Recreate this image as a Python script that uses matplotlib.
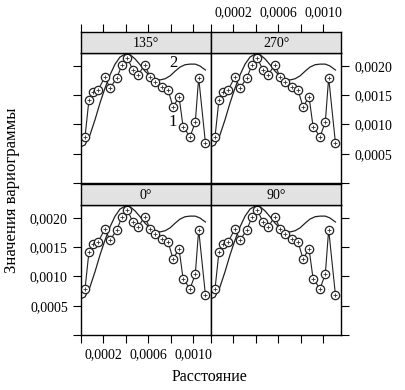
import matplotlib.pyplot as plt

plt.rcParams['font.family'] = ['Liberation Serif', 'DejaVu Serif']

# experimental variogram (curve 1)
lag = [0.000036, 0.000071, 0.000107, 0.000152, 0.000214, 0.000259, 0.000321,
       0.000366, 0.000411, 0.000464, 0.000509, 0.000571, 0.000616, 0.000661,
       0.000723, 0.000777, 0.000821, 0.000875, 0.000911, 0.000973, 0.00102,
       0.00105, 0.00111]
gamma = [0.00079, 0.00142, 0.00156, 0.00159, 0.00181, 0.00162, 0.00180,
         0.00202, 0.00214, 0.00193, 0.00185, 0.00202, 0.00181, 0.00173,
         0.00164, 0.00159, 0.00130, 0.00147, 0.00096, 0.00079, 0.00104,
         0.00180, 0.00069]

# model variogram (curve 2)
model_lag = [0.0, 0.000036, 0.00008, 0.000125, 0.00017, 0.000214, 0.00026,
             0.000304, 0.000348, 0.000393, 0.000438, 0.000482, 0.000527,
             0.000571, 0.000616, 0.000661, 0.000705, 0.00075, 0.000795,
             0.00084, 0.000884, 0.000929, 0.000973, 0.00102, 0.00106, 0.00111]
model_gamma = [0.00062, 0.00065, 0.00082, 0.00108, 0.00137, 0.00162, 0.00185,
               0.00203, 0.00215, 0.00220, 0.00219, 0.00212, 0.00202, 0.00191,
               0.00183, 0.00178, 0.00176, 0.00178, 0.00183, 0.00191, 0.00198,
               0.00202, 0.00203, 0.00203, 0.00200, 0.00193]

directions = ['135°', '270°', '0°', '90°']
yticks = [0, 0.0005, 0.0010, 0.0015, 0.0020]
ytick_labels = ['', '0,0005', '0,0010', '0,0015', '0,0020']
xticks = [0, 0.0002, 0.0004, 0.0006, 0.0008, 0.0010]
xtick_labels = ['', '0,0002', '', '0,0006', '', '0,0010']

fig = plt.figure(figsize=(4.05, 3.9), dpi=100)

W, H = 405.0, 390.0
lefts = [81, 211]
tops = [53, 205]       # top of plot area (px)
pw, ph, sh = 130, 130, 21

for i in range(4):
    r, c = i // 2, i % 2
    x0 = lefts[c] / W
    y0 = 1 - (tops[r] + ph) / H
    ax = fig.add_axes([x0, y0, pw / W, ph / H])
    st = fig.add_axes([x0, y0 + ph / H, pw / W, sh / H])

    ax.plot(model_lag, model_gamma, color='#222222', lw=0.9)
    ax.plot(lag, gamma, color='#222222', lw=0.8, marker='o', ms=6,
            mfc='white', mec='#222222', mew=0.9)
    ax.plot(lag, gamma, ls='none', marker='+', ms=3.5, mec='#333333', mew=0.6)
    ax.set_xlim(0, 0.00116)
    ax.set_ylim(0, 0.00222)
    ax.set_xticks(xticks)
    ax.set_yticks(yticks)
    ax.set_xticklabels(xtick_labels)
    ax.set_yticklabels(ytick_labels)
    ax.tick_params(direction='out', length=6, width=0.8, labelsize=10,
                   left=False, right=False, bottom=False, top=False,
                   labelleft=False, labelright=False, labelbottom=False,
                   labeltop=False)
    if c == 0:
        ax.tick_params(left=True, labelleft=(r == 1))
    else:
        ax.tick_params(right=True, labelright=(r == 0))
    if r == 1:
        ax.tick_params(bottom=True, labelbottom=(c == 0))

    st.set_facecolor('#e2e2e2')
    st.set_xlim(0, 0.00116)
    st.set_ylim(0, 1)
    st.set_yticks([])
    st.set_xticks(xticks)
    st.set_xticklabels(xtick_labels)
    st.tick_params(direction='out', length=6, width=0.8, labelsize=10,
                   bottom=False, labelbottom=False, top=(r == 0),
                   labeltop=(r == 0 and c == 1))
    st.text(0.5, 0.45, directions[i], transform=st.transAxes,
            ha='center', va='center', fontsize=10)

    for a in (ax, st):
        for s in a.spines.values():
            s.set_linewidth(1.0)

    if i == 0:
        ax.text(0.00082, 0.00205, '2', fontsize=12, ha='center', va='center')
        ax.text(0.00082, 0.00104, '1', fontsize=12, ha='center', va='center')

fig.text(209 / W, 1 - 377 / H, 'Расстояние', ha='center', va='center',
         fontsize=11.5)
fig.text(12 / W, 1 - 190 / H, 'Значения вариограммы', ha='center',
         va='center', rotation=90, fontsize=12)

fig.savefig('out.png', dpi=100)
